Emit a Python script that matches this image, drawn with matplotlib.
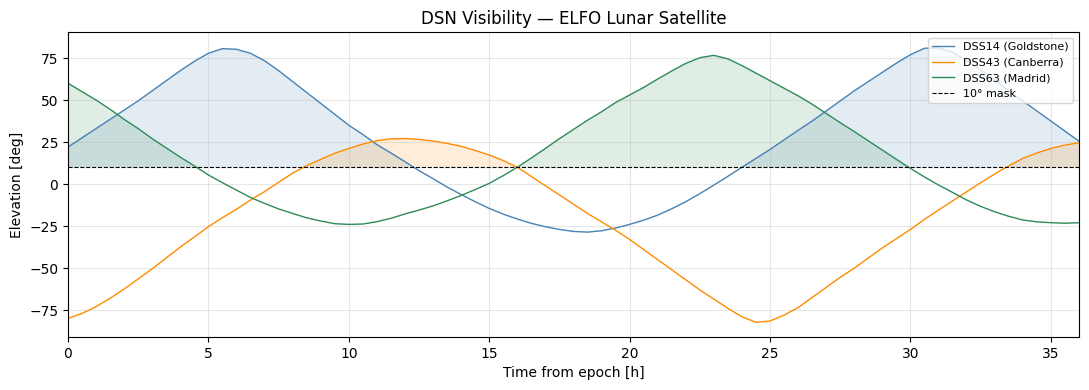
import numpy as np
import matplotlib
matplotlib.use("Agg")
import matplotlib.pyplot as plt

# hours from epoch, every half hour
hours = np.arange(0, 36.5, 0.5)

# elevation readings [deg] off the chart, one per half hour
dss14 = [22, 27.5, 33, 38.5, 44, 49.5, 55.5, 61.5, 67.5, 73, 77.8, 80.6, 80.2, 77.8,
         73.4, 67.5, 61, 54.5, 48, 41.5, 35, 29.5, 23.5, 18.5, 13.3, 8, 3.2, -1.8,
         -6.2, -10.5, -14.5, -17.9, -20.8, -23.4, -25.4, -27, -28.2, -28.6, -27.8, -26.2,
         -24, -21.5, -18.5, -14.7, -10.5, -5.7, -0.6, 4.6, 10, 15.3, 20.6, 26.3,
         32, 37.5, 43.5, 49.5, 55.5, 61, 66.5, 72, 77, 80.8, 81, 78.5, 73.5, 68,
         62, 55.5, 49.5, 43.5, 37.5, 31.5, 25.5]
dss43 = [-80, -77, -73, -68, -62.5, -56.5, -50.4, -44, -37.5, -31.5, -25.4, -20, -15, -9.5,
         -4.5, 1, 6.5, 11, 14.7, 18.3, 21.2, 23.8, 25.8, 26.9, 27.1, 26.6, 25.6, 24.2,
         22.5, 20, 17.3, 14, 10, 4.5, -1, -6.5, -12, -17.5, -22.5, -27.5, -33, -39,
         -45, -51, -57, -63, -68.5, -74, -79, -82.3, -81.5, -78, -73.5, -67.5, -61.5, -55.5,
         -50, -44, -38, -32.5, -27, -21, -15.5, -10, -4.6, 0.8, 6, 10.8, 15.3, 18.5,
         21.2, 23.2, 24.6]
dss63 = [60, 55, 50, 44.5, 38.5, 33, 27, 21.5, 16, 10.8, 5.4, 0.8, -3.6, -8,
         -11.5, -14.8, -17.5, -20.1, -22, -23.6, -24, -23.8, -22.4, -20.4, -17.8, -15.5,
         -13, -10, -6.8, -3.3, 0.4, 5, 10, 15.5, 21.2, 27, 32.5, 38, 43, 48.5, 53,
         57.5, 62.5, 67.3, 71.8, 75.2, 76.6, 74.5, 70.5, 66, 61.5, 57, 52.5, 47.5,
         42, 36.5, 31.2, 25.7, 20.2, 14.7, 9.3, 4.2, -0.6, -5, -9.5, -13.3, -16.5,
         -19.2, -21.4, -22.5, -23, -23.3, -23]

stations = ["DSS14 (Goldstone)", "DSS43 (Canberra)", "DSS63 (Madrid)"]
colors = ["steelblue", "darkorange", "seagreen"]
mask = 10

fig, ax = plt.subplots(figsize=(10.89, 3.9), dpi=100)
fig.subplots_adjust(left=0.0624, right=0.9908, top=0.918, bottom=0.136)
for name, el, c in zip(stations, [dss14, dss43, dss63], colors):
    el = np.array(el)
    ax.plot(hours, el, color=c, lw=1, label=name)
    ax.fill_between(hours, el, mask, where=el > mask, interpolate=True,
                    color=c, alpha=0.15, lw=0)
ax.axhline(mask, color="black", ls="--", lw=0.8, label="10° mask")

ax.set_xlim(0, 36)
ax.set_ylim(-91, 90.5)
ax.set_xlabel("Time from epoch [h]")
ax.set_ylabel("Elevation [deg]")
ax.set_title("DSN Visibility — ELFO Lunar Satellite")
ax.grid(alpha=0.3)
ax.legend(loc="upper right", fontsize=8)
fig.savefig("out.png")
